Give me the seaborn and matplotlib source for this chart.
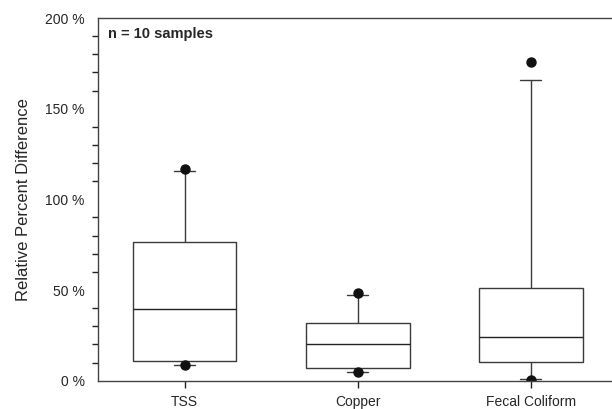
import numpy as np
import pandas as pd
import seaborn as sns
import matplotlib
matplotlib.use("Agg")
import matplotlib.pyplot as plt
from matplotlib.ticker import MultipleLocator, FuncFormatter

# relative percent difference per sample (n = 10 each)
categories = ["TSS", "Copper", "Fecal Coliform"]
tss = [8.8, 8.9, 10.5, 12.1, 35.0, 44.0, 70.0, 78.8, 115.6, 116.6]
copper = [4.8, 4.9, 6.5, 7.7, 18.0, 22.2, 30.0, 32.3, 47.1, 48.5]
fecal = [0.6, 0.9, 9.5, 12.7, 20.6, 28.0, 48.0, 52.4, 166.0, 175.6]
y_ticks = [0, 50, 100, 150, 200]

df = pd.DataFrame({
    "param": np.repeat(categories, 10),
    "rpd": tss + copper + fecal,
})

sns.set_theme(style="white")
plt.rcParams["font.family"] = ["Liberation Sans", "DejaVu Sans"]

fig = plt.figure(figsize=(6.12, 4.09), dpi=100)
ax = fig.add_axes([98/612, 1 - 380.7/409, 1 - 98/612, (380.7 - 18)/409])

line_col = "#3a3a3a"
sns.boxplot(data=df, x="param", y="rpd", order=categories, ax=ax,
            whis=(10, 90), width=0.6, color="white", linecolor=line_col,
            linewidth=1.0, capwidths=0.12,
            flierprops=dict(marker="o", markerfacecolor="#111111",
                            markeredgecolor="#111111", markersize=6.5),
            medianprops=dict(color="#222222", linewidth=1.0))

ax.set_xlim(-0.5, 2.47)
ax.set_ylim(0, 200)
ax.set_yticks(y_ticks)
ax.yaxis.set_minor_locator(MultipleLocator(10))
ax.yaxis.set_major_formatter(FuncFormatter(lambda v, p: f"{v:.0f} %"))
ax.tick_params(axis="y", which="major", direction="inout", length=9,
               width=1, color="#222222", labelsize=10, pad=5)
ax.tick_params(axis="y", which="minor", direction="out", length=4.5,
               width=1, color="#222222", left=True)
ax.tick_params(axis="x", direction="out", length=5, width=1,
               color="#222222", labelsize=10, pad=5, bottom=True)

for s in ["left", "bottom", "top"]:
    ax.spines[s].set_color("#444444")
    ax.spines[s].set_linewidth(1.0)
ax.spines["right"].set_visible(False)

ax.set_xlabel("")
ax.set_ylabel("Relative Percent Difference", fontsize=12, labelpad=10)
ax.text(0.02, 0.975, "n = 10 samples", transform=ax.transAxes,
        fontsize=10.5, fontweight="bold", va="top", ha="left")

fig.savefig("out.png", dpi=100)
